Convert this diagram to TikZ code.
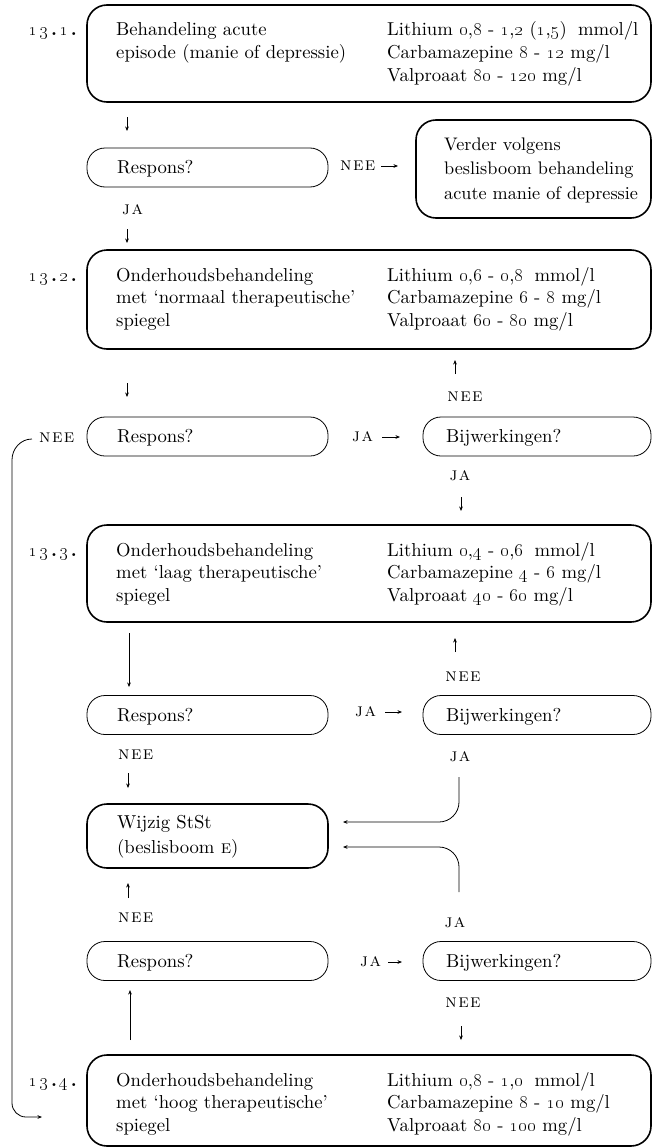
\RequirePackage{fix-cm}
\documentclass[tikz,border=0pt]{standalone}
\usetikzlibrary{arrows.meta}
\DeclareFontFamily{TU}{lmten}{}
\DeclareFontShape{TU}{lmten}{m}{n}{<-> \UnicodeFontFile{lmroman10-regular}{\UnicodeFontTeXLigatures}}{}
\DeclareFontShape{TU}{lmten}{m}{sc}{<-> \UnicodeFontFile{lmromancaps10-regular}{\UnicodeFontTeXLigatures}}{}
\DeclareFontShape{TU}{lmten}{b}{n}{<-> \UnicodeFontFile{lmroman10-bold}{\UnicodeFontTeXLigatures}}{}
\DeclareFontShape{TU}{lmten}{bx}{n}{<-> \UnicodeFontFile{lmroman10-bold}{\UnicodeFontTeXLigatures}}{}
\newcommand\on[1]{\oldstylenums{#1}}
\newcommand\lns[1]{\begin{tabular}[t]{@{}l@{}}#1\end{tabular}}
\newcommand\nee{\textsc{n\kern1.4pt e\kern1.4pt e}}
\newcommand\ja{\textsc{j\kern1.4pt a}}
\newcommand\secno[1]{\textbf{\on{1}\kern3pt\on{3}\kern2.5pt.\kern2.5pt\on{#1}\kern2.5pt.}}
\begin{document}
\begin{tikzpicture}[x=1pt,y=-1pt,
  every node/.style={font=\fontfamily{lmten}\fontsize{18.7}{22.8}\selectfont, inner sep=0pt},
  bigbox/.style={draw, line width=1.6pt, rounded corners=20pt},
  smallbox/.style={draw, line width=0.8pt, rounded corners=18pt},
  txt/.style={anchor=base west},
  lbl/.style={anchor=base},
  sec/.style={anchor=base east},
  glyph/.style={line width=0.6pt, -{Stealth[length=4.5pt,width=3.6pt]}},
  conn/.style={line width=0.8pt, -{Stealth[length=4.5pt,width=3.6pt]}}]
\useasboundingbox (0,0) rectangle (653,1148);

% ---------- boxes ----------
\node[bigbox, minimum width=564pt, minimum height=97pt] (b1) at (369,53.5) {};
\node[smallbox, minimum width=241pt, minimum height=39pt] (r1) at (207.5,167.5) {};
\node[bigbox, minimum width=235pt, minimum height=98pt] (v1) at (533.5,169) {};
\node[bigbox, minimum width=564pt, minimum height=99pt] (b2) at (369,299.5) {};
\node[smallbox, minimum width=241pt, minimum height=39pt] (r2) at (207.5,436.5) {};
\node[smallbox, minimum width=228pt, minimum height=39pt] (w2) at (537,436.5) {};
\node[bigbox, minimum width=564pt, minimum height=97pt] (b3) at (369,573.5) {};
\node[smallbox, minimum width=241pt, minimum height=39pt] (r3) at (207.5,715) {};
\node[smallbox, minimum width=228pt, minimum height=39pt] (w3) at (537,715) {};
\node[bigbox, minimum width=241pt, minimum height=64pt] (wz) at (207.5,836) {};
\node[smallbox, minimum width=241pt, minimum height=39pt] (r4) at (207.5,961) {};
\node[smallbox, minimum width=228pt, minimum height=39pt] (w4) at (537,961) {};
\node[bigbox, minimum width=564pt, minimum height=91pt] (b4) at (369,1100.5) {};

% ---------- section numbers ----------
\node[sec] (s1) at (77,36) {\secno{1}};
\node[sec] (s2) at (77,281) {\secno{2}};
\node[sec] (s3) at (77,556) {\secno{3}};
\node[sec] (s4) at (77,1086) {\secno{4}};

% ---------- texts ----------
\node[txt] (t1l) at (116,36) {\lns{Behandeling acute\\episode (manie of depressie)}};
\node[txt] (t1r) at (387,36) {\lns{Lithium \on{0},\on{8} - \on{1},\on{2} (\on{1},\on{5})\hspace{0.6em}mmol/l\\Carbamazepine \on{8} - \on{12} mg/l\\Valproaat \on{80} - \on{120} mg/l}};
\node[txt] (tr1) at (117,173.5) {Respons?};
\node[txt] (tv1) at (444,150) {\fontsize{18.2}{24.5}\selectfont\lns{Verder volgens\\beslisboom behandeling\\acute manie of depressie}};

\node[txt] (t2l) at (116,281) {\lns{Onderhoudsbehandeling\\met `normaal therapeutische'\\spiegel}};
\node[txt] (t2r) at (387,281) {\lns{Lithium \on{0},\on{6} - \on{0},\on{8}\hspace{0.6em}mmol/l\\Carbamazepine \on{6} - \on{8} mg/l\\Valproaat \on{60} - \on{80} mg/l}};
\node[txt] (tr2) at (117,442.5) {Respons?};
\node[txt] (tw2) at (446,442.5) {Bijwerkingen?};

\node[txt] (t3l) at (116,556) {\lns{Onderhoudsbehandeling\\met `laag therapeutische'\\spiegel}};
\node[txt] (t3r) at (387,556) {\lns{Lithium \on{0},\on{4} - \on{0},\on{6}\hspace{0.6em}mmol/l\\Carbamazepine \on{4} - \on{6} mg/l\\Valproaat \on{40} - \on{60} mg/l}};
\node[txt] (tr3) at (117,721) {Respons?};
\node[txt] (tw3) at (446,721) {Bijwerkingen?};

\node[txt] (twz) at (117,828) {\fontsize{18.7}{25}\selectfont\lns{Wijzig StSt\\(beslisboom \textsc{e})}};
\node[txt] (tr4) at (117,967) {Respons?};
\node[txt] (tw4) at (446,967) {Bijwerkingen?};

\node[txt] (t4l) at (116,1086) {\lns{Onderhoudsbehandeling\\met `hoog therapeutische'\\spiegel}};
\node[txt] (t4r) at (387,1086) {\lns{Lithium \on{0},\on{8} - \on{1},\on{0}\hspace{0.6em}mmol/l\\Carbamazepine \on{8} - \on{10} mg/l\\Valproaat \on{80} - \on{100} mg/l}};

% ---------- yes/no labels ----------
\node[txt] (nee1) at (340,170) {\nee};
\node[txt] (ja1) at (122,214) {\ja};
\node[lbl] (nee2) at (465,401) {\nee};
\node[txt] (nee3) at (39,442) {\nee};
\node[txt] (ja2) at (352,441) {\ja};
\node[lbl] (ja3) at (460,480) {\ja};
\node[lbl] (nee4) at (463,681) {\nee};
\node[txt] (ja4) at (355,716) {\ja};
\node[txt] (nee5) at (118,759) {\nee};
\node[lbl] (ja5) at (460,761) {\ja};
\node[txt] (nee6) at (118,922) {\nee};
\node[lbl] (ja6) at (455,927) {\ja};
\node[txt] (ja7) at (360,966) {\ja};
\node[lbl] (nee7) at (463,1007) {\nee};

% ---------- arrow end points ----------
\coordinate (a1s) at (127,117);  \coordinate (a1e) at (127,131);
\coordinate (a5s) at (381,166);  \coordinate (a5e) at (398,166);
\coordinate (a2s) at (127,229);  \coordinate (a2e) at (127,243);
\coordinate (a3s) at (127,383);  \coordinate (a3e) at (127,397);
\coordinate (a4s) at (455,374);  \coordinate (a4e) at (455,360);
\coordinate (a6s) at (382,437);  \coordinate (a6e) at (400,437);
\coordinate (a7s) at (461,497);  \coordinate (a7e) at (461,511);
\coordinate (a8s) at (129,633);  \coordinate (a8e) at (129,687);
\coordinate (a9s) at (455,652);  \coordinate (a9e) at (455,638);
\coordinate (a10s) at (385,712); \coordinate (a10e) at (402,712);
\coordinate (a11s) at (128,773); \coordinate (a11e) at (128,788);
\coordinate (c1s) at (459,777);  \coordinate (c1e) at (343,822);
\coordinate (c2s) at (459,892);  \coordinate (c2e) at (343,847);
\coordinate (a14s) at (128,898); \coordinate (a14e) at (128,883);
\coordinate (a15s) at (388,962); \coordinate (a15e) at (402,962);
\coordinate (a16s) at (130,1040); \coordinate (a16e) at (130,990);
\coordinate (a17s) at (461,1026); \coordinate (a17e) at (461,1040);
\coordinate (ls) at (32,439);    \coordinate (le) at (42,1117);

% ---------- arrows ----------
\draw[glyph] (a1s) -- (a1e);
\draw[glyph] (a5s) -- (a5e);
\draw[glyph] (a2s) -- (a2e);
\draw[glyph] (a3s) -- (a3e);
\draw[glyph] (a4s) -- (a4e);
\draw[glyph] (a6s) -- (a6e);
\draw[glyph] (a7s) -- (a7e);
\draw[glyph] (a8s) -- (a8e);
\draw[glyph] (a9s) -- (a9e);
\draw[glyph] (a10s) -- (a10e);
\draw[glyph] (a11s) -- (a11e);
\draw[glyph] (a14s) -- (a14e);
\draw[glyph] (a15s) -- (a15e);
\draw[glyph] (a16s) -- (a16e);
\draw[glyph] (a17s) -- (a17e);
\draw[conn, rounded corners=20pt] (c1s) -- (c1s |- c1e) -- (c1e);
\draw[conn, rounded corners=20pt] (c2s) -- (c2s |- c2e) -- (c2e);
\draw[conn] (ls) to[out=180,in=90] (12,460) -- (12,1103) to[out=-90,in=180] (26,1117) -- (le);
\end{tikzpicture}
\end{document}
